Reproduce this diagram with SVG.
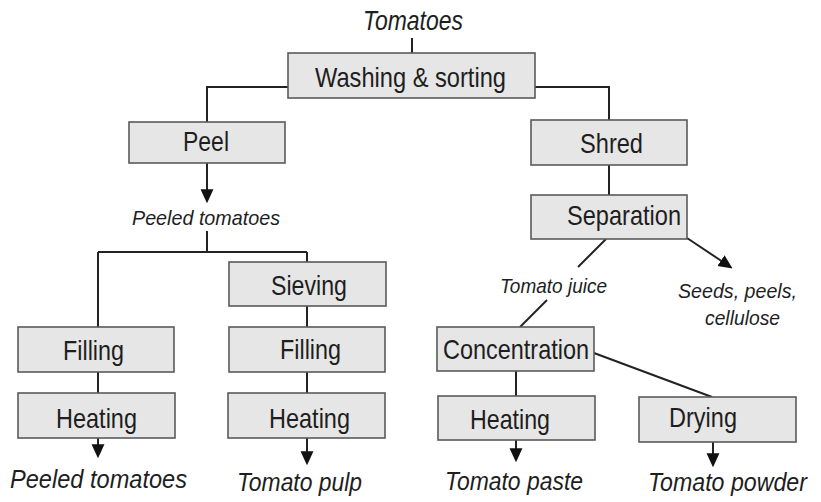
<svg xmlns="http://www.w3.org/2000/svg" width="821" height="502" viewBox="0 0 821 502">
<defs>
<style>
.box{fill:#e6e6e6;stroke:#5a5a5a;stroke-width:1.6}
.t{font-family:"Liberation Sans Narrow","Liberation Sans",Arial,sans-serif;font-size:28px;fill:#1e1e1e}
.i{font-family:"Liberation Sans Narrow","Liberation Sans",Arial,sans-serif;font-style:italic;fill:#1e1e1e}
.c{fill:none;stroke:#222;stroke-width:2}
</style>
<marker id="ah" markerUnits="userSpaceOnUse" markerWidth="14" markerHeight="14" viewBox="0 0 13 12" refX="9" refY="6" orient="auto">
<path d="M0,0 L13,6 L0,12 z" fill="#111"/>
</marker>
</defs>
<rect width="821" height="502" fill="#fff"/>
<g id="connectors">
<path class="c" d="M412,38 V53"/>
<path class="c" d="M288,87 H207 V122"/>
<path class="c" d="M535,87 H609 V120"/>
<path class="c" d="M207,163 V199" marker-end="url(#ah)"/>
<path class="c" d="M207,231 V252"/>
<path class="c" d="M98,252 H307"/>
<path class="c" d="M98,252 V327"/>
<path class="c" d="M307,252 V262"/>
<path class="c" d="M307,306 V327"/>
<path class="c" d="M307,372 V393"/>
<path class="c" d="M98,372 V393"/>
<path class="c" d="M98,438 V454" marker-end="url(#ah)"/>
<path class="c" d="M307,438 V461" marker-end="url(#ah)"/>
<path class="c" d="M609,165 V195"/>
<path class="c" d="M606,239 L578,267"/>
<path class="c" d="M547,300 L520,327"/>
<path class="c" d="M687,238 L729,266" marker-end="url(#ah)"/>
<path class="c" d="M516,371 V396"/>
<path class="c" d="M594,353 L712,397"/>
<path class="c" d="M516,440 V458" marker-end="url(#ah)"/>
<path class="c" d="M713,442 V463" marker-end="url(#ah)"/>
</g>
<g id="labels">
<text class="i" x="363" y="30" font-size="28" textLength="100" lengthAdjust="spacingAndGlyphs">Tomatoes</text>
<text class="i" x="132" y="225" font-size="21" textLength="148" lengthAdjust="spacingAndGlyphs">Peeled tomatoes</text>
<text class="i" x="500" y="293" font-size="21" textLength="107" lengthAdjust="spacingAndGlyphs">Tomato juice</text>
<text class="i" x="678" y="298" font-size="21" textLength="119" lengthAdjust="spacingAndGlyphs">Seeds, peels,</text>
<text class="i" x="705" y="325" font-size="21" textLength="75" lengthAdjust="spacingAndGlyphs">cellulose</text>
<text class="i" x="10" y="488" font-size="25" textLength="177" lengthAdjust="spacingAndGlyphs">Peeled tomatoes</text>
<text class="i" x="237" y="491" font-size="25" textLength="125" lengthAdjust="spacingAndGlyphs">Tomato pulp</text>
<text class="i" x="445" y="490" font-size="25" textLength="138" lengthAdjust="spacingAndGlyphs">Tomato paste</text>
<text class="i" x="648" y="491" font-size="25" textLength="159" lengthAdjust="spacingAndGlyphs">Tomato powder</text>
</g>
<g id="washing"><rect class="box" x="288" y="53" width="247" height="45"/><text class="t" x="315" y="87" textLength="191" lengthAdjust="spacingAndGlyphs">Washing &amp; sorting</text></g>
<g id="peel"><rect class="box" x="129" y="122" width="156" height="41"/><text class="t" x="183" y="151" textLength="46" lengthAdjust="spacingAndGlyphs">Peel</text></g>
<g id="shred"><rect class="box" x="531" y="120" width="156" height="45"/><text class="t" x="580" y="153" textLength="63" lengthAdjust="spacingAndGlyphs">Shred</text></g>
<g id="separation"><rect class="box" x="531" y="195" width="156" height="44"/><text class="t" x="567" y="225" textLength="114" lengthAdjust="spacingAndGlyphs">Separation</text></g>
<g id="sieving"><rect class="box" x="229" y="262" width="157" height="44"/><text class="t" x="271" y="295" textLength="76" lengthAdjust="spacingAndGlyphs">Sieving</text></g>
<g id="filling1"><rect class="box" x="18" y="327" width="156" height="45"/><text class="t" x="63" y="360" textLength="61" lengthAdjust="spacingAndGlyphs">Filling</text></g>
<g id="filling2"><rect class="box" x="229" y="327" width="156" height="45"/><text class="t" x="280" y="359" textLength="61" lengthAdjust="spacingAndGlyphs">Filling</text></g>
<g id="heating1"><rect class="box" x="18" y="393" width="157" height="45"/><text class="t" x="56" y="428" textLength="81" lengthAdjust="spacingAndGlyphs">Heating</text></g>
<g id="heating2"><rect class="box" x="228" y="393" width="157" height="45"/><text class="t" x="269" y="428" textLength="81" lengthAdjust="spacingAndGlyphs">Heating</text></g>
<g id="concentration"><rect class="box" x="437" y="327" width="157" height="44"/><text class="t" x="443" y="359" textLength="146" lengthAdjust="spacingAndGlyphs">Concentration</text></g>
<g id="heating3"><rect class="box" x="438" y="396" width="157" height="44"/><text class="t" x="470" y="429" textLength="80" lengthAdjust="spacingAndGlyphs">Heating</text></g>
<g id="drying"><rect class="box" x="639" y="397" width="157" height="45"/><text class="t" x="669" y="427" textLength="68" lengthAdjust="spacingAndGlyphs">Drying</text></g>
</svg>
